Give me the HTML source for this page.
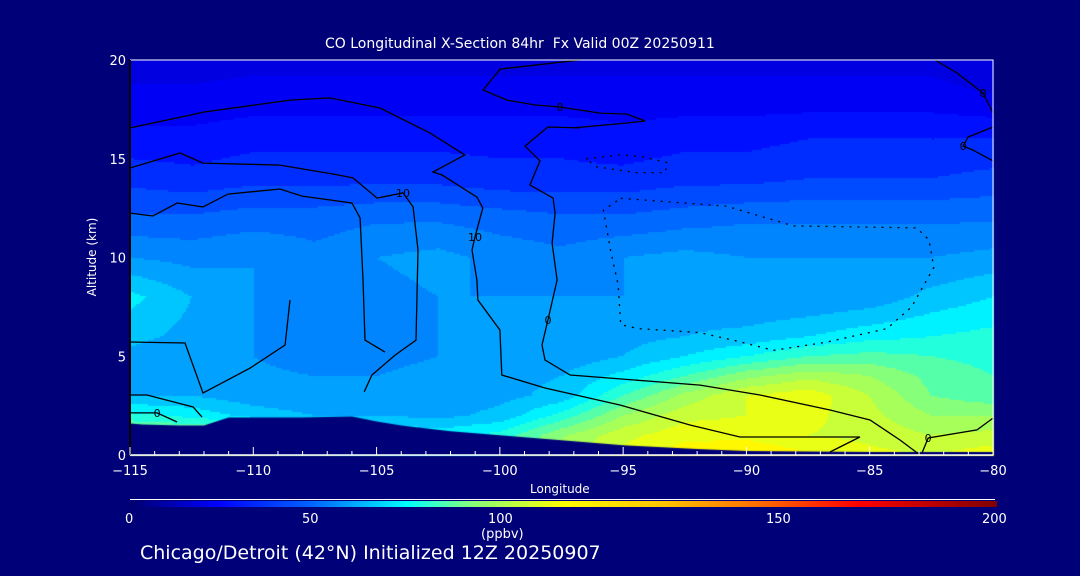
<!DOCTYPE html>
<html><head><meta charset="utf-8">
<style>
html,body{margin:0;padding:0;background:#000078;}
#root{position:relative;width:1080px;height:576px;background:#000078;overflow:hidden;font-family:"DejaVu Sans","Liberation Sans",sans-serif;color:#fff;}
.t{position:absolute;white-space:nowrap;color:#fff;}
</style></head>
<body>
<div id="root">
<div class="t" style="left:325px;top:36px;font-size:14px;">CO Longitudinal X-Section 84hr &nbsp;Fx Valid 00Z 20250911</div>
<canvas id="field" width="1080" height="576" style="position:absolute;left:0;top:0;"></canvas>
<svg id="ov" width="1080" height="576" style="position:absolute;left:0;top:0;"></svg>
<div class="t" style="left:52px;top:250px;font-size:12px;transform:rotate(-90deg);transform-origin:center;width:80px;text-align:center;">Altitude (km)</div>
<div class="t" style="left:530px;top:482px;font-size:12px;">Longitude</div>
<div style="position:absolute;left:130px;top:501px;width:867px;height:6px;background:linear-gradient(to right,#00006e 0%,#0000ff 10%,#0064ff 21%,#00ffff 32%,#80ff80 39%,#ffff00 50%,#ffc000 62%,#ff6000 74%,#ff0000 84%,#800000 100%);"></div>
<div style="position:absolute;left:130px;top:499px;width:865px;height:1px;background:#fff;"></div>
<div class="t" style="left:125px;top:512px;font-size:13px;">0</div>
<div class="t" style="left:302px;top:512px;font-size:13px;">50</div>
<div class="t" style="left:488px;top:512px;font-size:13px;">100</div>
<div class="t" style="left:766px;top:512px;font-size:13px;">150</div>
<div class="t" style="left:982px;top:512px;font-size:13px;">200</div>
<div class="t" style="left:481px;top:527px;font-size:13px;">(ppbv)</div>
<div class="t" style="left:140px;top:542px;font-size:19px;">Chicago/Detroit (42°N) Initialized 12Z 20250907</div>
</div>
<script>
const lons=[-115,-112.5,-110,-107.5,-105,-102.5,-100,-97.5,-95,-92.5,-90,-87.5,-85,-82.5,-80];
const alts=[0,1,2,3,4,5,6,8,10,12,14,16,18,20];
const co=[
[100,100,98,92,85,80,85,100,110,118,120,115,110,108,112],
[95,95,92,88,80,76,80,95,106,112,112,108,106,102,104],
[80,76,70,66,66,64,68,80,96,106,108,110,104,96,96],
[66,66,62,60,60,62,64,68,84,98,108,112,102,90,86],
[63,63,61,60,60,62,64,66,74,84,94,100,96,88,84],
[64,62,60,58,58,60,60,62,66,72,78,84,86,84,82],
[68,64,60,58,58,60,60,62,64,66,68,72,76,78,80],
[74,66,60,58,58,60,60,60,60,62,60,60,62,68,72],
[60,58,60,56,60,62,58,56,60,62,60,60,60,60,62],
[49,49,51,51,53,53,51,49,49,51,53,53,53,53,53],
[40,38,40,40,40,40,38,38,38,40,40,42,42,42,44],
[32,32,34,34,34,34,34,34,32,34,34,36,36,36,36],
[26,26,27,27,27,27,27,27,27,27,27,27,27,27,25],
[21,21,22,22,22,22,22,22,22,22,22,22,22,22,18]];
const terrainLon=[-115,-114.5,-113,-112,-111,-110,-108,-106,-105,-104,-102,-100,-98,-95,-92,-90,-85,-80];
const terrainAlt=[1.6,1.55,1.5,1.5,1.9,1.9,1.9,1.95,1.7,1.5,1.2,1.0,0.8,0.5,0.3,0.2,0.15,0.15];
const xTicks=[-115,-110,-105,-100,-95,-90,-85,-80];
const xTickLabels=["\u2212115","\u2212110","\u2212105","\u2212100","\u221295","\u221290","\u221285","\u221280"];
const yTicks=[0,5,10,15,20];
const yTickLabels=["0","5","10","15","20"];
const contours=[
{lab:"10",pts:[[-115,16.56],[-111.96,17.37],[-108.51,17.97],[-106.89,18.08],[-104.86,17.57],[-102.83,16.3],[-101.42,15.19],[-102.71,14.33],[-102.35,14.18],[-100.93,13.06],[-100.69,12.51],[-101.01,11.04],[-101.13,10.38],[-100.93,8.86],[-100.89,7.85],[-100,6.33],[-99.92,4.05],[-98.17,3.39],[-95.13,2.53],[-92.29,1.52],[-90.26,0.91],[-85.4,0.91],[-86.61,0.15]]},
{lab:"10",pts:[[-115,14.53],[-112.97,15.29],[-112.04,14.78],[-108.92,14.68],[-106.77,14.23],[-105.96,14.03],[-104.98,13.01],[-103.93,13.27],[-103.52,12.56],[-103.32,10.38],[-103.4,5.82],[-104.25,5.06],[-105.19,4.05],[-105.5,3.2]]},
{lab:"",pts:[[-115,12.25],[-114.07,12.1],[-113.09,12.76],[-112.04,12.56],[-111.03,13.21],[-108.92,13.47],[-108.02,13.11],[-106,12.76],[-105.67,12],[-105.55,8.86],[-105.47,5.82],[-104.66,5.21]]},
{lab:"",pts:[[-115,5.72],[-112.77,5.67],[-112.04,3.14],[-110.13,4.4],[-108.71,5.57],[-108.51,7.85]]},
{lab:"0",pts:[[-96.75,20],[-99.99,19.54],[-100.68,18.48],[-99.71,17.97],[-98.57,17.72],[-97.56,17.62],[-95.94,17.31],[-94.84,17.26],[-94.11,16.91],[-94.84,16.81],[-97.03,16.56]]},
{lab:"0",pts:[[-96.75,16.56],[-98.05,16.61],[-98.98,15.64],[-98.37,14.89],[-98.78,13.67],[-97.84,13.01],[-97.76,12.25],[-97.88,10.73],[-97.68,8.86],[-98.05,6.83],[-98.29,5.57],[-98.17,4.81],[-97.15,4.05],[-91.88,3.54],[-89.45,3.04],[-86.61,2.28],[-84.99,1.77],[-83.77,0.76],[-82.96,0]]},
{lab:"0",pts:[[-82.35,20],[-81.46,19.34],[-80.4,18.33],[-80,17.32]]},
{lab:"0",pts:[[-80,16.61],[-81.01,16.1],[-81.21,15.64],[-80.81,15.44],[-80,14.89]]},
{lab:"0",pts:[[-80,1.87],[-80.65,1.27],[-82.63,0.86],[-82.88,0.1]]},
{lab:"",pts:[[-115,3.04],[-114.31,3.04],[-112.44,2.43],[-112.08,1.92]]},
{lab:"0",pts:[[-115,2.13],[-113.9,2.13],[-113.09,1.67]]}];
const dotted=[
[[-95.1,13.0],[-90.8,12.6],[-88.1,11.6],[-83.1,11.5],[-82.6,10.9],[-82.4,9.5],[-83.3,7.5],[-84.3,6.4],[-86.8,5.7],[-88.9,5.3],[-90.5,5.8],[-91.9,6.2],[-94.4,6.4],[-95.1,6.6],[-95.2,8.6],[-95.5,10.3],[-95.8,12.4],[-95.1,13.0]],
[[-96.5,15.0],[-95.1,15.2],[-94.2,15.1],[-93.2,14.8],[-93.3,14.3],[-94.5,14.3],[-96.1,14.6],[-96.5,15.0]]];

const X0=130,X1=993,Y0=455,Y1=60;
const xs=l=>X0+(l+115)/35*(X1-X0);
const ys=a=>Y0-a/20*(Y0-Y1);
const cmap=[[0,0,0,110],[20,0,0,220],[30,0,0,255],[50,0,100,255],[65,0,170,255],[77,0,255,255],[92,128,255,128],[115,255,255,0],[150,255,128,0],[200,180,0,0]];
function col(v){for(let i=1;i<cmap.length;i++){if(v<=cmap[i][0]){const a=cmap[i-1],b=cmap[i],t=(v-a[0])/(b[0]-a[0]);return [0,1,2].map(k=>Math.round(a[k+1]+t*(b[k+1]-a[k+1])));}}return cmap[cmap.length-1].slice(1);}
function interp(arrX,v){let i=0;while(i<arrX.length-2&&v>arrX[i+1])i++;const t=Math.max(0,Math.min(1,(v-arrX[i])/(arrX[i+1]-arrX[i])));return [i,t];}
function val(l,a){const [i,ti]=interp(lons,l),[j,tj]=interp(alts,a);const v00=co[j][i],v10=co[j][i+1],v01=co[j+1][i],v11=co[j+1][i+1];return (v00*(1-ti)+v10*ti)*(1-tj)+(v01*(1-ti)+v11*ti)*tj;}
const cv=document.getElementById('field'),ctx=cv.getContext('2d');
const step=2;
for(let px=X0;px<X1;px+=step){for(let py=Y1;py<Y0;py+=step){const l=-115+(px+1-X0)/(X1-X0)*35,a=(Y0-py-1)/(Y0-Y1)*20;let v=val(l,a);v=Math.floor(v/6)*6+3;const c=col(v);ctx.fillStyle='rgb('+c+')';ctx.fillRect(px,py,step,step);}}
ctx.fillStyle='#000078';ctx.beginPath();ctx.moveTo(xs(-115),Y0);
for(let k=0;k<terrainLon.length;k++)ctx.lineTo(xs(terrainLon[k]),ys(terrainAlt[k]));
ctx.lineTo(xs(-80),Y0);ctx.closePath();ctx.fill();

const NS='http://www.w3.org/2000/svg',ov=document.getElementById('ov');
function mk(tag,at){const e=document.createElementNS(NS,tag);for(const k in at)e.setAttribute(k,at[k]);ov.appendChild(e);return e;}
contours.forEach((c,ci)=>{const p=mk('polyline',{points:c.pts.map(q=>xs(q[0]).toFixed(1)+','+ys(q[1]).toFixed(1)).join(' '),fill:'none',stroke:'#000',"stroke-width":1.3});


if(c.lab){const m=c.pts[Math.floor(c.pts.length/2)];const t=mk('text',{x:xs(m[0]),y:ys(m[1])+4,fill:'#000',"font-size":11,"font-family":"DejaVu Sans, sans-serif","text-anchor":"middle"});t.textContent=c.lab;

}});
dotted.forEach((d,di)=>{const p=mk('polyline',{points:d.map(q=>xs(q[0]).toFixed(1)+','+ys(q[1]).toFixed(1)).join(' '),fill:'none',stroke:'#000',"stroke-width":1.3,"stroke-dasharray":"2 6"});

});
const fr=mk('polyline',{points:X0+','+Y1+' '+X1+','+Y1+' '+X1+','+Y0,fill:'none',stroke:'#fff',"stroke-width":1});


const xa=mk('line',{x1:X0,y1:Y0,x2:X1,y2:Y0,stroke:'#fff',"stroke-width":1.5});


const ya=mk('line',{x1:X0,y1:Y0,x2:X0,y2:Y1,stroke:'#000',"stroke-width":2});


for(let l=-115;l<=-80;l++){const major=xTicks.includes(l);const tk=mk('line',{x1:xs(l),y1:Y0,x2:xs(l),y2:Y0-(major?8:4),stroke:'#fff'});

}
xTicks.forEach((l,i)=>{const t=mk('text',{x:xs(l),y:475,fill:'#fff',"font-size":13,"font-family":"DejaVu Sans, sans-serif","text-anchor":"middle"});t.textContent=xTickLabels[i];

});
yTicks.forEach((a,i)=>{const t=mk('text',{x:126,y:ys(a)+5,fill:'#fff',"font-size":13,"font-family":"DejaVu Sans, sans-serif","text-anchor":"end"});t.textContent=yTickLabels[i];

});
</script>
</body></html>
